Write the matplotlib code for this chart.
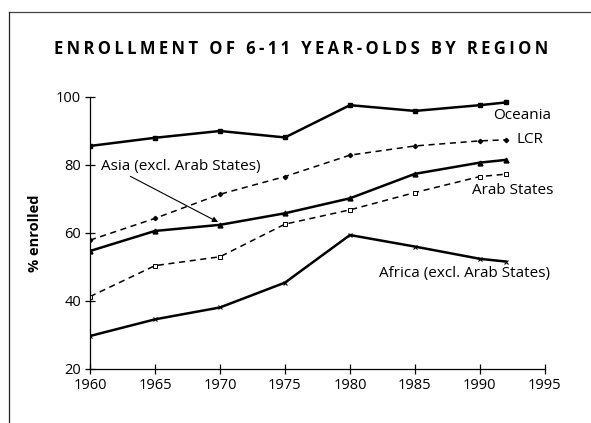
import matplotlib.pyplot as plt
from matplotlib.lines import Line2D

plt.rcParams['font.family'] = ['Open Sans', 'DejaVu Sans']

years = [1960, 1965, 1970, 1975, 1980, 1985, 1990, 1992]
oceania = [85.6, 88.0, 90.0, 88.1, 97.6, 95.9, 97.6, 98.4]
lcr = [57.9, 64.3, 71.4, 76.6, 82.9, 85.6, 87.1, 87.4]
asia = [54.7, 60.6, 62.4, 65.8, 70.2, 77.4, 80.7, 81.5]
arab = [41.3, 50.4, 53.0, 62.6, 66.8, 71.9, 76.6, 77.3]
africa = [29.7, 34.6, 38.1, 45.4, 59.4, 56.0, 52.4, 51.6]

title = "ENROLLMENT OF 6-11 YEAR-OLDS BY REGION"

fig = plt.figure(figsize=(5.91, 4.23), dpi=100)
ax = fig.add_axes([0.1523, 0.1277, 0.7697, 0.643])

# solid series
ax.plot(years, oceania, color='black', lw=1.8, marker='s', ms=3.5)
ax.plot(years, asia, color='black', lw=1.8, marker='^', ms=3.5)
ax.plot(years, africa, color='black', lw=1.8, marker='x', ms=3, mew=0.8)
# dashed series
ax.plot(years, lcr, color='black', lw=1.1, ls=(0, (4, 3)), marker='D', ms=2.2)
ax.plot(years, arab, color='black', lw=1.1, ls=(0, (4, 3)), marker='s', ms=3,
        mfc='white', mew=0.7)

ax.set_xlim(1960, 1995)
ax.set_ylim(20, 100)
ax.set_xticks(range(1960, 1996, 5))
ax.set_yticks(range(20, 101, 20))
for s in ['top', 'right']:
    ax.spines[s].set_visible(False)
ax.spines['left'].set_linewidth(0.9)
ax.spines['bottom'].set_linewidth(0.9)
ax.tick_params(direction='inout', length=7, width=0.9, labelsize=10.5, pad=3)
ax.set_ylabel('% enrolled', fontsize=10.5, fontweight='bold', labelpad=10)

# series labels
fs = 11
ax.text(1991.0, 94.7, 'Oceania', fontsize=fs, va='center', ha='left')
ax.text(1992.85, 87.4, 'LCR', fontsize=fs, va='center', ha='left')
ax.text(1989.4, 72.4, 'Arab States', fontsize=fs, va='center', ha='left')
ax.text(1982.2, 48.2, 'Africa (excl. Arab States)', fontsize=fs, va='center', ha='left')
ax.annotate('Asia (excl. Arab States)', xy=(1969.85, 63.2), xytext=(1960.85, 79.7),
            fontsize=fs, va='center', ha='left',
            arrowprops=dict(arrowstyle='-|>', color='black', lw=0.8,
                            shrinkA=0, shrinkB=0, mutation_scale=8,
                            relpos=(0.15, 0.0)))

fig.text(0.51, 0.884, '\u2009'.join(title), ha='center', va='center',
         fontsize=12, fontweight='bold')

# page frame lines
fig.add_artist(Line2D([0.0152, 1.0], [0.9716, 0.9716], color='#444444', lw=0.9))
fig.add_artist(Line2D([0.0152, 0.0152], [0.0, 0.9716], color='#222222', lw=0.9))

fig.savefig('out.png', dpi=100)
